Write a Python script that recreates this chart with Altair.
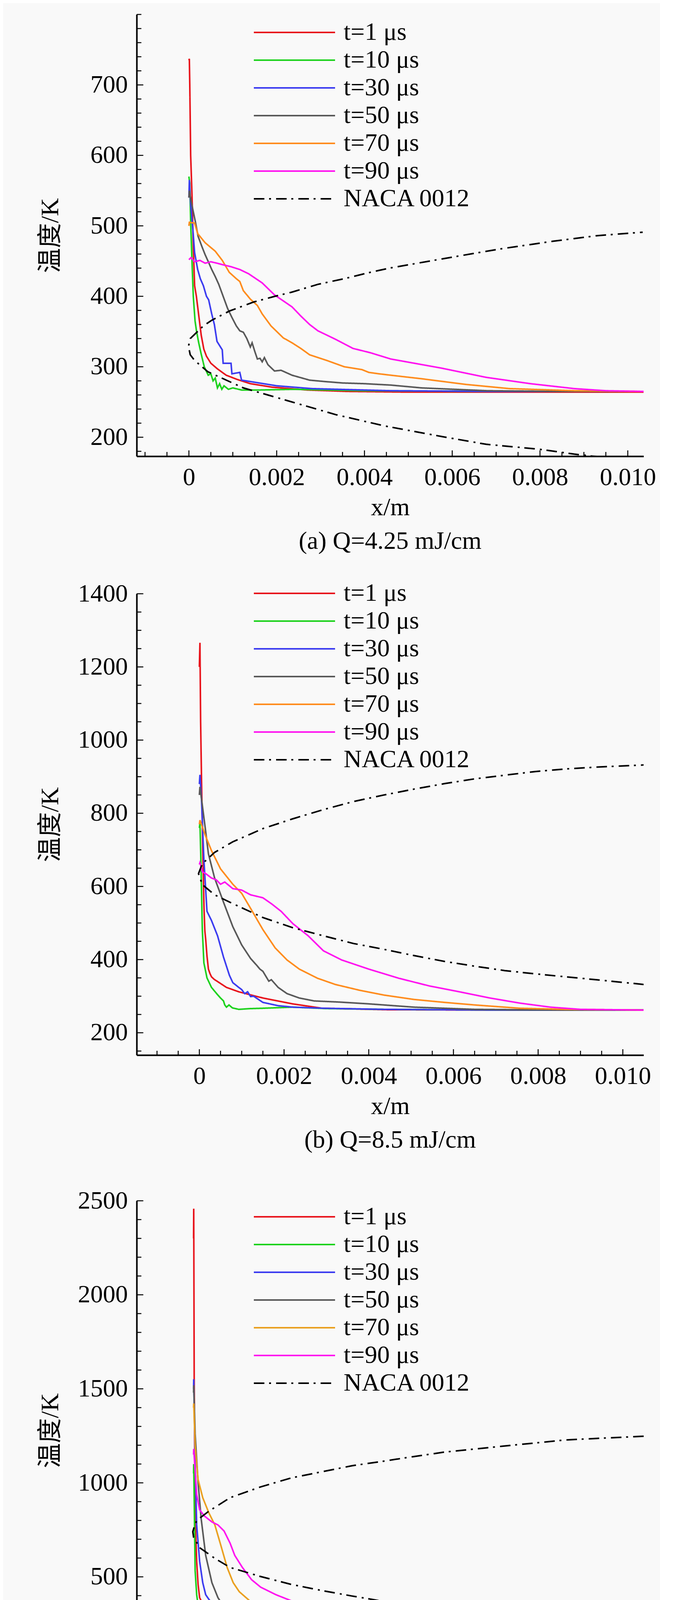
import altair as alt
import pandas as pd

FONT = "Liberation Serif"
CJK_FONT = "Liberation Serif, Noto Sans CJK SC, sans-serif"

SERIES = ["t=1 μs", "t=10 μs", "t=30 μs", "t=50 μs", "t=70 μs", "t=90 μs", "NACA 0012"]
COLORS_AB = ["#e8141c", "#1ed21e", "#3c3cf0", "#595959", "#ff8c1e", "#ff14f0", "#000000"]
COLORS_C = ["#e8141c", "#1ed21e", "#3c3cf0", "#595959", "#eaa020", "#ff14f0", "#000000"]
DASHES = [[1, 0], [1, 0], [1, 0], [1, 0], [1, 0], [1, 0], [27, 12, 5, 13]]

# ---------------- panel (a) Q=4.25 mJ/cm ----------------
A_T1_X = [0, 0.00001, 0.00002, 0.00004, 0.00007, 0.0001, 0.00013, 0.00017, 0.00022, 0.00028, 0.00034, 0.0004,
          0.0005, 0.00065, 0.00085, 0.0011, 0.0014, 0.0019, 0.0027, 0.0036, 0.005, 0.007, 0.01036]
A_T1_Y = [735, 737, 700, 600, 545, 470, 415, 400, 375, 345, 325, 315, 305, 297, 288, 282, 276, 271, 267, 265,
          264, 264, 264]
A_T10_X = [0, 0.00002, 0.00004, 0.00007, 0.0001, 0.00014, 0.00017, 0.00022, 0.00028, 0.00035, 0.00044, 0.0005,
           0.00055, 0.0006, 0.00065, 0.0007, 0.00075, 0.0008, 0.0009, 0.001, 0.0012, 0.0016, 0.0024, 0.004, 0.007,
           0.01036]
A_T10_Y = [570, 560, 505, 450, 400, 365, 352, 335, 318, 300, 288, 290, 280, 284, 270, 276, 268, 273, 268, 270,
           267, 267, 268, 266, 265, 265]
A_T30_X = [0, 0.00001, 0.00004, 0.00009, 0.00013, 0.0002, 0.00026, 0.00033, 0.0004, 0.00045, 0.00052, 0.00058,
           0.00064, 0.0007, 0.00076, 0.00078, 0.00096, 0.00098, 0.00116, 0.0012, 0.0014, 0.0016, 0.002, 0.0028,
           0.0046, 0.007, 0.01036]
A_T30_Y = [540, 565, 530, 495, 462, 438, 425, 415, 400, 395, 375, 360, 336, 330, 324, 305, 305, 290, 292, 281,
           279, 277, 273, 269, 266, 265, 265]
A_T50_X = [0, 0.00001, 0.00005, 0.00009, 0.00015, 0.00021, 0.0003, 0.00037, 0.00045, 0.00052, 0.0006, 0.00068,
           0.00078, 0.00088, 0.00098, 0.00108, 0.00116, 0.00124, 0.00132, 0.0014, 0.00144, 0.0015, 0.00156,
           0.00162, 0.00167, 0.00172, 0.0018, 0.00195, 0.0021, 0.00235, 0.00275, 0.0031, 0.0035, 0.004, 0.0046,
           0.0053, 0.0068, 0.0085, 0.01036]
A_T50_Y = [540, 550, 535, 523, 505, 485, 470, 459, 448, 438, 428, 417, 400, 383, 370, 358, 351, 349, 340, 328,
           334, 322, 311, 312, 307, 313, 303, 294, 295, 288, 281, 279, 277, 276, 274, 270, 266, 265, 265]
A_T70_X = [0, 0.00001, 0.00013, 0.0002, 0.00037, 0.0006, 0.00076, 0.00092, 0.00108, 0.00116, 0.00124, 0.0014,
           0.00156, 0.00167, 0.00187, 0.00215, 0.00235, 0.00255, 0.00275, 0.00314, 0.00354, 0.00394, 0.0041,
           0.00433, 0.0046, 0.0053, 0.0063, 0.0073, 0.0088, 0.01036]
A_T70_Y = [500, 505, 504, 489, 476, 464, 451, 434, 425, 421, 408, 396, 387, 375, 358, 341, 334, 326, 317, 309,
           300, 296, 292, 290, 288, 283, 275, 269, 266, 265]
A_T90_X = [0, 0.00005, 0.00013, 0.00025, 0.00037, 0.0005, 0.00064, 0.00076, 0.00096, 0.00116, 0.00136, 0.00167,
           0.00195, 0.00235, 0.00255, 0.00275, 0.00294, 0.00334, 0.00374, 0.00413, 0.0046, 0.00576, 0.00677,
           0.00778, 0.00878, 0.0095, 0.01036]
A_T90_Y = [452, 455, 449, 451, 447, 449, 447, 445, 442, 438, 432, 419, 402, 385, 372, 360, 351, 339, 326, 320,
           311, 298, 285, 276, 269, 266, 265]
A_NACA_X = [0.0104, 0.00878, 0.00798, 0.00677, 0.00576, 0.00446, 0.00335, 0.00224, 0.00124, 0.00043, 0.00013,
            0.00003, -0.00001, 0.00003, 0.00013, 0.00033, 0.00052, 0.00092, 0.00148, 0.00196, 0.00235, 0.00294,
            0.00354, 0.00413, 0.00457, 0.00576, 0.00707, 0.00828, 0.00929, 0.01034]
A_NACA_Y = [165, 176, 183, 190, 201, 216, 232, 252, 270, 293, 309, 317, 329, 340, 346, 358, 366, 379, 392, 400,
            406, 417, 425, 434, 440, 453, 467, 478, 486, 491]

# ---------------- panel (b) Q=8.5 mJ/cm ----------------
B_T1_X = [0, 0.000014, 0.00003, 0.00005, 0.00008, 0.00011, 0.00013, 0.00015, 0.00018, 0.000214, 0.00025,
          0.000286, 0.00035, 0.00043, 0.00064, 0.00093, 0.0015, 0.0022, 0.0029, 0.0044, 0.007, 0.01049]
B_T1_Y = [1200, 1266, 1050, 900, 700, 540, 478, 455, 410, 374, 362, 353, 346, 340, 324, 312, 295, 279, 267, 263,
          262, 262]
B_T10_X = [0, 0.000014, 0.000036, 0.00007, 0.000107, 0.00018, 0.000286, 0.00043, 0.0005, 0.00057, 0.0006,
           0.00064, 0.0007, 0.00078, 0.00093, 0.0012, 0.0015, 0.0022, 0.003, 0.0044, 0.007, 0.01049]
B_T10_Y = [760, 773, 673, 482, 391, 350, 324, 304, 295, 287, 276, 270, 276, 268, 264, 266, 267, 270, 266, 264,
           262, 262]
B_T30_X = [0, 0.000014, 0.00005, 0.000107, 0.00018, 0.000286, 0.00043, 0.00057, 0.00071, 0.00079, 0.00093, 0.001,
           0.00107, 0.00114, 0.00121, 0.00128, 0.0015, 0.00186, 0.00221, 0.00293, 0.00436, 0.007, 0.01049]
B_T30_Y = [880, 905, 839, 673, 532, 507, 465, 407, 357, 337, 324, 318, 307, 312, 299, 300, 283, 274, 270, 267,
           264, 262, 262]
B_T50_X = [0, 0.000014, 0.00007, 0.000143, 0.000214, 0.00036, 0.00057, 0.00079, 0.001, 0.00121, 0.00135, 0.00143,
           0.0015, 0.00164, 0.0017, 0.00186, 0.00207, 0.00236, 0.00271, 0.00329, 0.004, 0.00507, 0.0065, 0.0085,
           0.01049]
B_T50_Y = [850, 872, 822, 756, 689, 623, 557, 490, 440, 403, 385, 374, 368, 341, 345, 324, 307, 295, 287, 284,
           279, 270, 264, 262, 262]
B_T70_X = [0, 0.000014, 0.000143, 0.000286, 0.0005, 0.00079, 0.001, 0.00121, 0.0015, 0.00179, 0.00207, 0.00236,
           0.00279, 0.00321, 0.00379, 0.00436, 0.00507, 0.00579, 0.0065, 0.00757, 0.00864, 0.01049]
B_T70_Y = [770, 781, 739, 698, 648, 606, 581, 540, 482, 432, 399, 374, 349, 332, 316, 303, 291, 283, 276, 267,
           264, 262]
B_T90_X = [0, 0.000014, 0.00007, 0.00015, 0.000286, 0.0004, 0.0005, 0.0006, 0.00079, 0.001, 0.00121, 0.0015,
           0.00171, 0.00193, 0.00221, 0.00257, 0.00293, 0.00336, 0.004, 0.00471, 0.00543, 0.00614, 0.00686,
           0.00757, 0.00829, 0.009, 0.01049]
B_T90_Y = [660, 665, 640, 635, 623, 618, 606, 612, 594, 590, 577, 569, 552, 532, 498, 465, 424, 399, 374, 349,
           328, 312, 295, 281, 270, 264, 262]
B_NACA_X = [0.0105, 0.00936, 0.00864, 0.00793, 0.00721, 0.0065, 0.00579, 0.00507, 0.00436, 0.00364, 0.00293,
            0.00221, 0.0015, 0.00079, 0.00036, 0.00007, -0.00002, 0.00007, 0.00036, 0.00079, 0.0015, 0.00221,
            0.00293, 0.00364, 0.00436, 0.00507, 0.00579, 0.0065, 0.00721, 0.00793, 0.00864, 0.00936, 0.0105]
B_NACA_Y = [332, 345, 353, 361, 370, 382, 395, 411, 428, 444, 465, 487, 515, 553, 577, 605, 635, 662, 693, 722,
            758, 785, 810, 832, 850, 866, 881, 894, 904, 914, 921, 926, 932]

# ---------------- panel (c) Q=17 mJ/cm ----------------
C_T1_X = [0, 0.00001, 0.00004, 0.00007, 0.0001, 0.00015, 0.0002, 0.00029, 0.00039, 0.00059, 0.00098, 0.00157,
          0.00235, 0.00334, 0.0063, 0.012, 0.029]
C_T1_Y = [2300, 2458, 1550, 1200, 900, 700, 580, 460, 389, 356, 316, 292, 276, 268, 263, 262, 262]
C_T10_X = [0, 0.00001, 0.00005, 0.0001, 0.0002, 0.00029, 0.00039, 0.00059, 0.00078, 0.00098, 0.00118, 0.00137,
           0.00157, 0.00235, 0.0043, 0.0082, 0.015, 0.029]
C_T10_Y = [1050, 1100, 850, 534, 405, 350, 324, 292, 276, 282, 284, 276, 273, 273, 268, 263, 262, 262]
C_T30_X = [0, 0.00001, 0.0001, 0.0002, 0.00039, 0.00059, 0.00078, 0.00098, 0.00118, 0.00137, 0.00177, 0.00235,
           0.00334, 0.0053, 0.009, 0.029]
C_T30_Y = [1500, 1551, 1099, 776, 582, 469, 405, 381, 360, 340, 316, 292, 276, 268, 263, 262]
C_T50_X = [0, 0.00001, 0.0001, 0.00029, 0.00049, 0.00078, 0.00118, 0.00157, 0.00196, 0.00235, 0.00294, 0.00392,
           0.00471, 0.00628, 0.0082, 0.0122, 0.029]
C_T50_Y = [1480, 1519, 1260, 1002, 808, 614, 469, 389, 340, 316, 308, 308, 300, 276, 268, 263, 262]
C_T70_X = [0, 0.00001, 0.0001, 0.00029, 0.00059, 0.00098, 0.00137, 0.00177, 0.00216, 0.00255, 0.00294, 0.00373,
           0.0049, 0.00628, 0.00785, 0.0092, 0.0112, 0.029]
C_T70_Y = [1400, 1422, 1196, 1018, 921, 841, 776, 663, 550, 469, 421, 364, 332, 308, 284, 268, 263, 262]
C_T90_X = [0, 0.00001, 0.0002, 0.00039, 0.00069, 0.00118, 0.00157, 0.00196, 0.00235, 0.00265, 0.00314, 0.00373,
           0.00432, 0.0053, 0.00628, 0.00726, 0.0082, 0.0092, 0.0102, 0.0141, 0.029]
C_T90_Y = [1150, 1180, 937, 857, 824, 792, 776, 744, 679, 614, 550, 485, 445, 405, 373, 340, 300, 273, 268, 264,
           265]
C_NACA_X = [0.029, 0.0259, 0.0239, 0.022, 0.02, 0.0181, 0.0161, 0.0141, 0.0122, 0.0102, 0.0082, 0.00628, 0.0043,
            0.00235, 0.00137, 0.00039, 0.0, -0.00005, 0.00002, 0.0002, 0.00098, 0.00235, 0.0043, 0.00628, 0.0082,
            0.0102, 0.0122, 0.0141, 0.0161, 0.0181, 0.02, 0.022, 0.0239, 0.0259, 0.029]
C_NACA_Y = [235, 250, 262, 276, 290, 306, 326, 348, 370, 398, 428, 460, 502, 550, 598, 655, 711, 740, 760, 800,
            849, 921, 978, 1026, 1058, 1091, 1115, 1139, 1163, 1180, 1196, 1212, 1228, 1236, 1248]

# axis tick values
A_YMAJ = [200, 300, 400, 500, 600, 700]
A_YMIN = [v for v in range(180, 801, 20) if v % 100 != 0 or v == 800]
B_YMAJ = [200, 400, 600, 800, 1000, 1200, 1400]
B_YMIN = [v for v in range(150, 1400, 50) if v % 200 != 0]
C_YMAJ = [500, 1000, 1500, 2000, 2500]
C_YMIN = [v for v in range(100, 2500, 100) if v % 500 != 0]
AB_XMAJ = [0, 0.002, 0.004, 0.006, 0.008, 0.01]
AB_XMIN = [round(i * 0.0005, 4) for i in range(-2, 21) if i % 4 != 0]
C_XMAJ = [0, 0.005, 0.01, 0.015, 0.02, 0.025]
C_XMIN = [round(i * 0.001, 3) for i in range(-3, 30) if i % 5 != 0]


def make_df(items):
    rows = []
    for name, xs, ys in items:
        assert len(xs) == len(ys), name
        for i, (xv, yv) in enumerate(zip(xs, ys)):
            rows.append({"series": name, "idx": i, "x": xv, "y": yv})
    return pd.DataFrame(rows)


def panel(df, xdom, ydom, w, h, ymaj, ymin, xmaj, xmin, caption, leg_y, colors):
    xs = alt.Scale(domain=xdom, nice=False, zero=False)
    ys = alt.Scale(domain=ydom, nice=False, zero=False)
    leg = alt.Legend(title=None, orient="none", legendX=298, legendY=leg_y, direction="vertical",
                     symbolType="M-1,0H5.5", symbolSize=4096, symbolStrokeWidth=3.8, symbolOpacity=1,
                     labelFont=FONT, labelFontSize=64, labelColor="black", labelOffset=164, labelLimit=2000,
                     rowPadding=5, padding=0)
    xaxis = alt.Axis(values=xmaj, labelExpr="datum.value == 0 ? '0' : format(datum.value, '.3f')",
                     title="x/m", grid=False, ticks=False, tickSize=0, domainColor="black", domainWidth=4,
                     labelFont=FONT, labelFontSize=64, labelColor="black", labelPadding=22,
                     labelFlush=False, labelOverlap=False, titleFont=FONT, titleFontSize=64,
                     titleFontWeight="normal", titleColor="black", titleX=w / 2, titleY=150,
                     titleAlign="center", titleBaseline="alphabetic", titleAngle=0)
    yaxis = alt.Axis(values=ymaj, format="d", title="温度/K", grid=False, ticks=False, tickSize=0,
                     domainColor="black", domainWidth=4, labelFont=FONT, labelFontSize=64, labelColor="black",
                     labelPadding=23, labelOverlap=False, titleFont=CJK_FONT, titleFontSize=64,
                     titleFontWeight="normal", titleColor="black", titleX=-221, titleY=h / 2, titleAngle=270,
                     titleAlign="center", titleBaseline="middle")

    def ytick(vals, length):
        return alt.Chart(pd.DataFrame({"y": vals})).mark_rule(color="black", strokeWidth=2.5).encode(
            y=alt.Y("y:Q", scale=ys, axis=yaxis), x=alt.value(0), x2=alt.value(length))

    def xtick(vals, length):
        return alt.Chart(pd.DataFrame({"x": vals})).mark_rule(color="black", strokeWidth=2.5).encode(
            x=alt.X("x:Q", scale=xs, axis=xaxis), y=alt.value(h), y2=alt.value(h - length))

    lines = alt.Chart(df).mark_line(clip=True, strokeWidth=4).encode(
        x=alt.X("x:Q", scale=xs, axis=xaxis),
        y=alt.Y("y:Q", scale=ys, axis=yaxis),
        color=alt.Color("series:N", scale=alt.Scale(domain=SERIES, range=colors), legend=leg),
        strokeDash=alt.StrokeDash("series:N", scale=alt.Scale(domain=SERIES, range=DASHES), legend=leg),
        order=alt.Order("idx:Q"),
    )
    return alt.layer(
        lines, ytick(ymaj, 17), ytick(ymin, 12), xtick(xmaj, 15), xtick(xmin, 11)
    ).properties(
        width=w, height=h,
        title=alt.TitleParams(text=caption, orient="bottom", anchor="middle", frame="group",
                              baseline="alphabetic", offset=74, font=FONT, fontSize=64,
                              fontWeight="normal", color="black"),
    )


df_a = make_df([(SERIES[0], A_T1_X, A_T1_Y), (SERIES[1], A_T10_X, A_T10_Y), (SERIES[2], A_T30_X, A_T30_Y),
                (SERIES[3], A_T50_X, A_T50_Y), (SERIES[4], A_T70_X, A_T70_Y), (SERIES[5], A_T90_X, A_T90_Y),
                (SERIES[6], A_NACA_X, A_NACA_Y)])
df_b = make_df([(SERIES[0], B_T1_X, B_T1_Y), (SERIES[1], B_T10_X, B_T10_Y), (SERIES[2], B_T30_X, B_T30_Y),
                (SERIES[3], B_T50_X, B_T50_Y), (SERIES[4], B_T70_X, B_T70_Y), (SERIES[5], B_T90_X, B_T90_Y),
                (SERIES[6], B_NACA_X, B_NACA_Y)])
df_c = make_df([(SERIES[0], C_T1_X, C_T1_Y), (SERIES[1], C_T10_X, C_T10_Y), (SERIES[2], C_T30_X, C_T30_Y),
                (SERIES[3], C_T50_X, C_T50_Y), (SERIES[4], C_T70_X, C_T70_Y), (SERIES[5], C_T90_X, C_T90_Y),
                (SERIES[6], C_NACA_X, C_NACA_Y)])

pa = panel(df_a, [-0.00119, 0.01036], [173, 800], 1298, 1131, A_YMAJ, A_YMIN, AB_XMAJ, AB_XMIN,
           "(a) Q=4.25 mJ/cm", 12, COLORS_AB)
pb = panel(df_b, [-0.00148, 0.01049], [139, 1400], 1298, 1181, B_YMAJ, B_YMIN, AB_XMAJ, AB_XMIN,
           "(b) Q=8.5 mJ/cm", -35, COLORS_AB)
pc = panel(df_c, [-0.00366, 0.029], [57, 2500], 1300, 1176, C_YMAJ, C_YMIN, C_XMAJ, C_XMIN,
           "(c) Q=17 mJ/cm", 7, COLORS_C)

IND = dict(x="independent", y="independent", color="independent", strokeDash="independent")
inner = alt.vconcat(pb, pc, spacing=373, bounds="flush").resolve_scale(**IND).resolve_legend(
    color="independent", strokeDash="independent")
chart = alt.vconcat(pa, inner, spacing=352, bounds="flush").resolve_scale(**IND).resolve_legend(
    color="independent", strokeDash="independent"
).properties(
    padding={"left": 89, "top": 27, "right": 10, "bottom": 4}, background="#f9f9f9"
).configure_axis(
    labelFont=FONT, titleFont=FONT
).configure_view(strokeWidth=0)

chart.save("out.html", embed_options={"renderer": "svg", "actions": False})
